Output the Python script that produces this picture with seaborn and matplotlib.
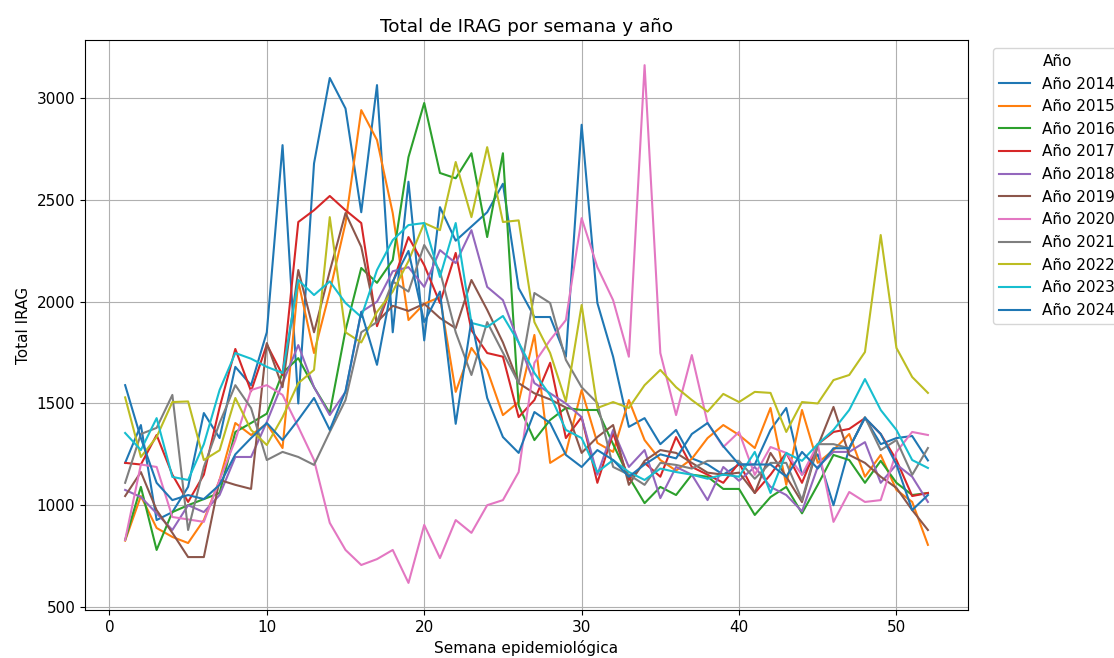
import numpy as np
import pandas as pd
import matplotlib

matplotlib.use("Agg")
import matplotlib.pyplot as plt
import seaborn as sns

plt.rcParams["font.size"] = 11

# weekly totals, one list per year
semanas = list(range(1, 53))
anios = [2014, 2015, 2016, 2017, 2018, 2019, 2020, 2021, 2022, 2023, 2024]

irag_2014 = [1208, 1394, 927, 966, 1090, 1453, 1330, 1680, 1590, 1850,
             2770, 1500, 2680, 3100, 2950, 2440, 3065, 1850, 2590, 1810,
             2465, 2300, 2370, 2440, 2580, 2067, 1925, 1925, 1730, 2870,
             1994, 1730, 1385, 1428, 1300, 1370, 1230, 1200, 1150, 1200,
             1200, 1370, 1478, 1150, 1250, 1000, 1280, 1430, 1300, 1330, 1340, 1220]
irag_2015 = [826, 1045, 888, 844, 814, 927, 1124, 1404, 1345, 1400,
             1281, 2100, 1748, 2050, 2387, 2942, 2795, 2436, 1910, 1990,
             2023, 1557, 1773, 1665, 1443, 1507, 1837, 1208, 1257, 1566,
             1306, 1262, 1517, 1320, 1222, 1170, 1228, 1330, 1394, 1345,
             1281, 1478, 1100, 1468, 1208, 1271, 1350, 1140, 1247, 1075, 1016, 805]
irag_2016 = [829, 1090, 780, 966, 1000, 1030, 1060, 1360, 1404, 1450,
             1650, 1723, 1580, 1453, 1860, 2166, 2093, 2205, 2711, 2977,
             2633, 2607, 2730, 2318, 2730, 1490, 1320, 1419, 1478, 1468,
             1468, 1300, 1139, 1010, 1090, 1050, 1150, 1140, 1080, 1080,
             952, 1040, 1090, 960, 1100, 1247, 1222, 1110, 1218, 1110, 1050, 1060]
irag_2017 = [1208, 1200, 1345, 1150, 1016, 1150, 1480, 1768, 1560, 1790,
             1640, 2392, 2450, 2520, 2450, 2387, 1880, 2093, 2318, 2180,
             1994, 2240, 1860, 1748, 1730, 1433, 1517, 1700, 1330, 1433,
             1110, 1355, 1124, 1208, 1140, 1335, 1188, 1150, 1110, 1208,
             1060, 1150, 1257, 1110, 1300, 1360, 1375, 1428, 1350, 1222, 1045, 1060]
irag_2018 = [1075, 1040, 960, 878, 1000, 966, 1050, 1237, 1237, 1409,
             1600, 1787, 1580, 1443, 1557, 1950, 2000, 2150, 2170, 2073,
             2254, 2190, 2352, 2073, 2008, 1800, 1600, 1550, 1500, 1433,
             1150, 1370, 1188, 1271, 1035, 1188, 1150, 1025, 1188, 1120,
             1188, 1090, 1050, 970, 1188, 1262, 1262, 1310, 1110, 1200, 1140, 1016]
irag_2019 = [1045, 1163, 976, 864, 745, 745, 1124, 1100, 1080, 1797,
             1580, 2156, 1850, 2150, 2436, 2270, 1900, 1980, 1955, 1990,
             1920, 1870, 2107, 1960, 1800, 1600, 1550, 1520, 1480, 1257,
             1335, 1394, 1100, 1218, 1271, 1257, 1208, 1160, 1150, 1160,
             1060, 1257, 1140, 1015, 1290, 1483, 1247, 1208, 1140, 1085, 976, 878]
irag_2020 = [829, 1200, 1188, 942, 930, 918, 1124, 1320, 1566, 1590,
             1542, 1385, 1222, 913, 780, 706, 735, 780, 618, 903,
             740, 927, 864, 1000, 1025, 1163, 1700, 1812, 1910, 2411,
             2170, 2008, 1730, 3163, 1748, 1443, 1738, 1404, 1286, 1360,
             1149, 1286, 1257, 1149, 1300, 918, 1065, 1016, 1025, 1262, 1360, 1345]
irag_2021 = [1110, 1350, 1380, 1542, 878, 1188, 1404, 1590, 1477, 1222,
             1262, 1237, 1198, 1360, 1517, 1850, 1900, 2100, 2050, 2279,
             2150, 1850, 1640, 1900, 1750, 1600, 2043, 1994, 1714, 1580,
             1502, 1188, 1150, 1100, 1208, 1198, 1180, 1218, 1218, 1218,
             1130, 1208, 1208, 1025, 1300, 1300, 1280, 1433, 1271, 1320, 1149, 1281]
irag_2022 = [1530, 1237, 1335, 1507, 1510, 1222, 1270, 1527, 1370, 1296,
             1433, 1600, 1665, 2416, 1850, 1800, 1950, 2050, 2200, 2387,
             2352, 2687, 2416, 2760, 2392, 2400, 1900, 1748, 1510, 1984,
             1478, 1507, 1478, 1590, 1665, 1580, 1517, 1460, 1547, 1507,
             1557, 1552, 1360, 1507, 1500, 1615, 1640, 1753, 2328, 1773, 1630, 1552]
irag_2023 = [1355, 1271, 1428, 1139, 1124, 1300, 1566, 1748, 1720, 1680,
             1650, 2107, 2033, 2100, 1994, 1925, 2156, 2303, 2377, 2387,
             2122, 2387, 1896, 1876, 1930, 1800, 1650, 1540, 1370, 1330,
             1163, 1222, 1163, 1124, 1180, 1163, 1150, 1130, 1150, 1140,
             1262, 1060, 1257, 1218, 1300, 1370, 1468, 1620, 1468, 1370, 1222, 1183]
irag_2024 = [1590, 1330, 1110, 1025, 1050, 1030, 1100, 1250, 1330, 1404,
             1320, 1420, 1527, 1370, 1560, 1950, 1690, 2100, 2250, 1900,
             2050, 1400, 1910, 1527, 1335, 1257, 1458, 1404, 1247, 1188,
             1271, 1222, 1140, 1200, 1250, 1230, 1350, 1404, 1290, 1200,
             1200, 1200, 1140, 1262, 1180, 1280, 1280, 1430, 1350, 1200, 976, 1050]

series = [irag_2014, irag_2015, irag_2016, irag_2017, irag_2018, irag_2019,
          irag_2020, irag_2021, irag_2022, irag_2023, irag_2024]

data = pd.DataFrame(
    {
        "semana": semanas * len(anios),
        "total": np.concatenate(series),
        "Año": np.repeat([f"Año {a}" for a in anios], len(semanas)),
    }
)

fig = plt.figure(figsize=(11.14, 6.58), dpi=100)
ax = fig.add_axes([0.0763, 0.073, 0.7927, 0.866])

sns.lineplot(
    data=data, x="semana", y="total", hue="Año",
    palette=sns.color_palette("tab10", len(anios)),
    errorbar=None, linewidth=1.5, ax=ax,
)

ax.set_title("Total de IRAG por semana y año")
ax.set_xlabel("Semana epidemiológica")
ax.set_ylabel("Total IRAG")
ax.set_xlim(-1.55, 54.55)
ax.set_ylim(485, 3286)
ax.set_xticks([0, 10, 20, 30, 40, 50])
ax.set_yticks([500, 1000, 1500, 2000, 2500, 3000])
ax.grid(True)

sns.move_legend(ax, "upper left", bbox_to_anchor=(1.02, 1), title="Año")

fig.savefig("out.png", dpi=100, facecolor="w")
plt.close()
